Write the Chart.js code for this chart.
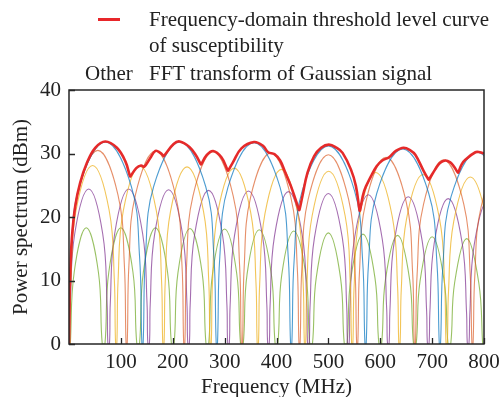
<!DOCTYPE html>
<html>
<head>
<meta charset="utf-8">
<script src="https://cdn.jsdelivr.net/npm/chart.js@4.4.1/dist/chart.umd.min.js"></script>
<style>
  body { margin: 0; background: #fff; }
  #wrap { position: relative; width: 499px; height: 397px; }
  #wrap canvas { position: absolute; left: 0; top: 0; }
  .txt { position: absolute; font-family: "Liberation Serif", serif; font-size: 21px; line-height: 26px; color: #222; white-space: nowrap; }
  .swatch { position: absolute; height: 2.5px; background: #e8262a; }
</style>
</head>
<body>
<div id="wrap">
  <canvas id="chart" width="499" height="397"></canvas>
  <div class="swatch" style="left:98px;top:18px;width:22px"></div>
  <div class="txt" style="left:149px;top:6px">Frequency-domain threshold level curve</div>
  <div class="txt" style="left:149px;top:32px">of susceptibility</div>
  <div class="txt" style="left:85px;top:60px">Other</div>
  <div class="txt" style="left:149px;top:60px">FFT transform of Gaussian signal</div>
</div>
<script>
// threshold curve (red)
const freqRed = [0, 0.8, 2.3, 5.4, 12, 21.6, 34.4, 50.6, 70, 92.3, 108.5, 117.6, 118.4, 129.7, 139, 145, 156.7, 166.7, 176, 182.2, 182.8,
  201.7, 213.3, 232.6, 245.5, 254.1, 254.9, 265, 277.8, 293.8, 306.2, 307, 316, 332.4, 356.7, 374, 384, 396, 407, 416, 427.6, 437.3,
  443.4, 444.2, 450, 459.8, 472.6, 486, 501, 516, 527.4, 543.4, 553, 560.1, 560.9, 569, 582, 593, 604, 617, 630, 645, 658, 667.6,
  684, 693, 693.8, 706, 715, 725.5, 735, 741.7, 749.6, 750.4, 757, 764, 783.4, 792, 800];
const levelRed = [0, 5.5, 11, 16.5, 21.7, 25.4, 28.5, 30.9, 31.9, 30.9, 28.8, 26.4, 26.4, 27.7, 28.1, 27.9, 29.3, 30.4, 30.1, 29.6, 29.6,
  31.5, 31.9, 31.0, 29.6, 28.3, 28.3, 29.7, 30.4, 29.4, 27.3, 27.3, 28.6, 30.8, 31.8, 31.2, 30.2, 29.9, 28.9, 27.2, 24.9, 22.6,
  21.1, 21.1, 23.3, 27.0, 29.6, 30.9, 31.4, 30.9, 30.1, 27.5, 24.9, 21.0, 21.0, 24.1, 26.4, 28.0, 28.9, 29.4, 30.4, 30.9, 30.5, 29.8,
  27.2, 25.9, 25.9, 27.5, 28.5, 28.9, 28.6, 28.0, 27.0, 27.0, 28.3, 29.0, 30.2, 30.2, 30.0];

// FFT of the Gaussian signals, one array pair per colour
const freqBlue = [-0.5, 4.0, 19.8, 70.0, 120.2, 136.0, 140.5,
  142.9, 147.4, 163.2, 213.3, 263.5, 279.3, 283.8,
  286.2, 290.7, 306.5, 356.7, 406.8, 422.6, 427.1,
  429.5, 434.0, 449.8, 500.0, 550.2, 566.0, 570.5,
  572.9, 577.4, 593.2, 643.3, 693.5, 709.3, 713.8,
  716.2, 720.7, 736.5, 786.7, 836.8, 852.6, 857.1];
const levelBlue = [0, 13.8, 24.8, 31.8, 24.8, 13.8, 0,
  0, 13.8, 24.8, 31.8, 24.8, 13.8, 0,
  0, 13.7, 24.7, 31.7, 24.7, 13.7, 0,
  0, 13.2, 24.2, 31.2, 24.2, 13.2, 0,
  0, 12.7, 23.7, 30.7, 23.7, 12.7, 0,
  0, 12.2, 23.2, 30.2, 23.2, 12.2, 0];

const freqOrange = [1.1, 4.4, 16.7, 55.6, 94.4, 106.7, 110.0,
  112.2, 115.5, 127.8, 166.7, 205.5, 217.8, 221.1,
  223.3, 226.6, 238.9, 277.8, 316.6, 328.9, 332.2,
  334.4, 337.7, 350.0, 388.9, 427.7, 440.0, 443.3,
  445.5, 448.8, 461.1, 500.0, 538.9, 551.2, 554.5,
  556.7, 560.0, 572.3, 611.1, 650.0, 662.3, 665.6,
  667.8, 671.1, 683.4, 722.2, 761.1, 773.4, 776.7,
  778.9, 782.2, 794.5, 833.3, 872.2, 884.5, 887.8];
const levelOrange = [0, 12.5, 23.5, 30.5, 23.5, 12.5, 0,
  0, 12.4, 23.4, 30.4, 23.4, 12.4, 0,
  0, 12.3, 23.3, 30.3, 23.3, 12.3, 0,
  0, 12.1, 23.1, 30.1, 23.1, 12.1, 0,
  0, 11.8, 22.8, 29.8, 22.8, 11.8, 0,
  0, 11.4, 22.4, 29.4, 22.4, 11.4, 0,
  0, 11.0, 22.0, 29.0, 22.0, 11.0, 0,
  0, 10.6, 21.6, 28.6, 21.6, 10.6, 0];

const freqYellow = [1.2, 3.6, 13.7, 45.5, 77.3, 87.4, 89.8,
  92.2, 94.6, 104.7, 136.5, 168.3, 178.4, 180.8,
  183.2, 185.6, 195.7, 227.5, 259.3, 269.4, 271.8,
  274.2, 276.6, 286.7, 318.5, 350.3, 360.4, 362.8,
  365.2, 367.6, 377.7, 409.5, 441.3, 451.4, 453.8,
  456.2, 458.6, 468.7, 500.5, 532.3, 542.4, 544.8,
  547.2, 549.6, 559.7, 591.5, 623.3, 633.4, 635.8,
  638.2, 640.6, 650.7, 682.5, 714.3, 724.4, 726.8,
  729.2, 731.6, 741.7, 773.5, 805.3, 815.4, 817.8];
const levelYellow = [0, 10.1, 21.1, 28.1, 21.1, 10.1, 0,
  0, 10.0, 21.0, 28.0, 21.0, 10.0, 0,
  0, 9.9, 20.9, 27.9, 20.9, 9.9, 0,
  0, 9.7, 20.7, 27.7, 20.7, 9.7, 0,
  0, 9.5, 20.5, 27.5, 20.5, 9.5, 0,
  0, 9.2, 20.2, 27.2, 20.2, 9.2, 0,
  0, 9.0, 20.0, 27.0, 20.0, 9.0, 0,
  0, 8.7, 19.7, 26.7, 19.7, 8.7, 0,
  0, 8.3, 19.3, 26.3, 19.3, 8.3, 0];

const freqPurple = [1.0, 2.6, 11.1, 38.0, 64.9, 73.4, 75.0,
  78.0, 79.6, 88.1, 115.0, 141.9, 150.4, 152.0,
  155.0, 156.6, 165.1, 192.0, 218.9, 227.4, 229.0,
  232.0, 233.6, 242.1, 269.0, 295.9, 304.4, 306.0,
  309.0, 310.6, 319.1, 346.0, 372.9, 381.4, 383.0,
  386.0, 387.6, 396.1, 423.0, 449.9, 458.4, 460.0,
  463.0, 464.6, 473.1, 500.0, 526.9, 535.4, 537.0,
  540.0, 541.6, 550.1, 577.0, 603.9, 612.4, 614.0,
  617.0, 618.6, 627.1, 654.0, 680.9, 689.4, 691.0,
  694.0, 695.6, 704.1, 731.0, 757.9, 766.4, 768.0,
  771.0, 772.6, 781.1, 808.0, 834.9, 843.4, 845.0];
const levelPurple = [0, 6.4, 17.4, 24.4, 17.4, 6.4, 0,
  0, 6.4, 17.4, 24.4, 17.4, 6.4, 0,
  0, 6.3, 17.3, 24.3, 17.3, 6.3, 0,
  0, 6.2, 17.2, 24.2, 17.2, 6.2, 0,
  0, 6.1, 17.1, 24.1, 17.1, 6.1, 0,
  0, 6.0, 17.0, 24.0, 17.0, 6.0, 0,
  0, 5.7, 16.7, 23.7, 16.7, 5.7, 0,
  0, 5.5, 16.5, 23.5, 16.5, 5.5, 0,
  0, 5.2, 16.2, 23.2, 16.2, 5.2, 0,
  0, 4.9, 15.9, 22.9, 15.9, 4.9, 0,
  0, 4.6, 15.6, 22.6, 15.6, 4.6, 0];

const freqGreen = [2.6, 10.0, 33.3, 56.7, 64.1,
  69.3, 76.7, 100.0, 123.3, 130.7,
  135.9, 143.3, 166.7, 190.0, 197.4,
  202.6, 210.0, 233.3, 256.7, 264.1,
  269.3, 276.7, 300.0, 323.3, 330.7,
  335.9, 343.3, 366.7, 390.0, 397.4,
  402.6, 410.0, 433.3, 456.7, 464.1,
  469.3, 476.7, 500.0, 523.3, 530.7,
  535.9, 543.3, 566.7, 590.0, 597.4,
  602.6, 610.0, 633.3, 656.7, 664.1,
  669.3, 676.7, 700.0, 723.3, 730.7,
  735.9, 743.3, 766.7, 790.0, 797.4];
const levelGreen = [0, 11.3, 18.3, 11.3, 0,
  0, 11.3, 18.3, 11.3, 0,
  0, 11.3, 18.3, 11.3, 0,
  0, 11.2, 18.2, 11.2, 0,
  0, 11.1, 18.1, 11.1, 0,
  0, 11.0, 18.0, 11.0, 0,
  0, 10.8, 17.8, 10.8, 0,
  0, 10.5, 17.5, 10.5, 0,
  0, 10.3, 17.3, 10.3, 0,
  0, 10.1, 17.1, 10.1, 0,
  0, 9.9, 16.9, 9.9, 0,
  0, 9.6, 16.6, 9.6, 0];

const xTicks = [100, 200, 300, 400, 500, 600, 700, 800];
const yTicks = [0, 10, 20, 30, 40];

function pts(xs, ys) {
  return xs.map((x, i) => ({ x: x, y: ys[i] }));
}

function series(xs, ys, color, width, order) {
  return {
    data: pts(xs, ys),
    borderColor: color,
    borderWidth: width,
    pointRadius: 0,
    tension: 0.4,
    fill: false,
    order: order
  };
}

// box round the plot and inward tick marks, drawn over the curves
const framePlugin = {
  id: "frame",
  afterDatasetsDraw(chart) {
    const ctx = chart.ctx;
    const a = chart.chartArea;
    const xs = chart.scales.x;
    const ys = chart.scales.y;
    ctx.save();
    ctx.strokeStyle = "#262626";
    ctx.lineWidth = 1.5;
    ctx.strokeRect(a.left, a.top, a.right - a.left, a.bottom - a.top);
    ctx.lineWidth = 1.3;
    ctx.beginPath();
    xTicks.forEach((v) => {
      const px = Math.round(xs.getPixelForValue(v)) + 0.5;
      ctx.moveTo(px, a.bottom);
      ctx.lineTo(px, a.bottom - 6);
    });
    yTicks.forEach((v) => {
      const py = Math.round(ys.getPixelForValue(v)) + 0.5;
      ctx.moveTo(a.left, py);
      ctx.lineTo(a.left + 6, py);
    });
    ctx.stroke();
    ctx.restore();
  }
};

Chart.defaults.font.family = "'Liberation Serif', serif";
Chart.defaults.color = "#222";

new Chart(document.getElementById("chart"), {
  type: "line",
  data: {
    datasets: [
      series(freqRed, levelRed, "#e52a2a", 2.6, 0),
      series(freqBlue, levelBlue, "rgba(0,114,189,0.7)", 1.1, 1),
      series(freqOrange, levelOrange, "rgba(217,83,25,0.65)", 1.1, 1),
      series(freqYellow, levelYellow, "rgba(237,177,32,0.75)", 1.1, 1),
      series(freqPurple, levelPurple, "rgba(126,47,142,0.7)", 1.1, 1),
      series(freqGreen, levelGreen, "rgba(119,172,48,0.75)", 1.1, 1)
    ]
  },
  options: {
    responsive: false,
    animation: false,
    layout: { padding: { top: 90, right: 15, left: 0, bottom: 0 } },
    plugins: { legend: { display: false }, tooltip: { enabled: false } },
    scales: {
      x: {
        type: "linear",
        min: 0,
        max: 800,
        grid: { display: false, drawTicks: false },
        border: { display: false },
        ticks: {
          stepSize: 100,
          padding: 6,
          maxRotation: 0,
          autoSkip: false,
          font: { size: 21 },
          callback: (v) => (v === 0 ? "" : v)
        },
        title: { display: true, text: "Frequency (MHz)", font: { size: 21 }, padding: { top: 0, bottom: -3 } },
        afterFit: (s) => {
          s.height = 53;
          s.paddingLeft = 0;
          s.paddingRight = 0;
        }
      },
      y: {
        min: 0,
        max: 40,
        grid: { display: false, drawTicks: false },
        border: { display: false },
        ticks: { stepSize: 10, padding: 8, font: { size: 21 } },
        title: { display: true, text: "Power spectrum (dBm)", font: { size: 21 }, padding: { top: 9, bottom: 0 } },
        afterFit: (s) => { s.width = 69; }
      }
    }
  },
  plugins: [framePlugin]
});
</script>
</body>
</html>
